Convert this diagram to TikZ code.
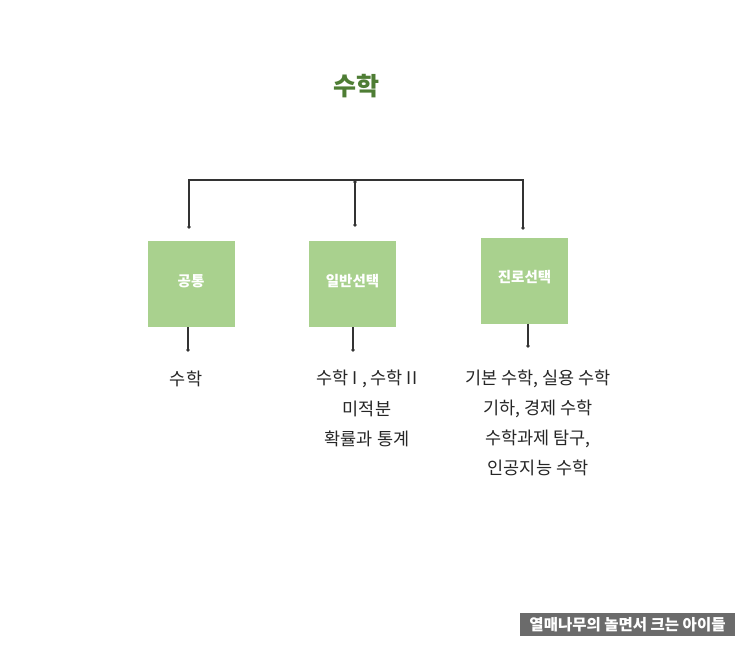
\documentclass[tikz,border=0pt]{standalone}
\usepackage{fontspec}
\setmainfont{Noto Sans CJK KR}
\newfontfamily\kr{Noto Sans CJK KR}
\definecolor{titlegreen}{HTML}{4E7D34}
\definecolor{boxgreen}{HTML}{A9D18E}
\definecolor{linegray}{HTML}{333333}
\definecolor{wmgray}{HTML}{6B6B6B}
\tikzset{
  x=1pt, y=-1pt,
  gbox/.style={fill=boxgreen, draw=none, minimum width=87pt, minimum height=86pt, inner sep=0pt},
  blabel/.style={text=white, font=\kr\bfseries\fontsize{14.5}{16}\selectfont, inner sep=0pt},
  conn/.style={draw=linegray, line width=1.3pt},
  dotc/.style={fill=linegray, draw=none},
  item/.style={font=\kr\fontsize{17.5}{20}\selectfont, inner sep=0pt, text=black!85},
}
\begin{document}
\begin{tikzpicture}
\useasboundingbox (0,0) rectangle (743,645);
\fill[white] (0,0) rectangle (743,645);
% title
\node[font=\kr\bfseries\fontsize{25}{28}\selectfont, text=titlegreen, inner sep=0pt] (title) at (356,86) {수학};
% bracket
\coordinate (tl) at (189,180);
\coordinate (tr) at (523,180);
\coordinate (tm) at (355,182);
\coordinate (e1) at (189,227);
\coordinate (e2) at (355,225);
\coordinate (e3) at (523,228);
\draw[conn] (e1) -- (tl) -- (tr) -- (e3);
\draw[conn] (tm) -- (e2);
\foreach \p in {e1,e2,e3,tm} \fill[dotc] (\p) circle (1.9);
% boxes
\node[gbox] (b1) at (191,284) {};
\node[gbox] (b2) at (352.5,284) {};
\node[gbox] (b3) at (524.5,280.5) {};
\node[blabel] (l1) at (191,281) {공통};
\node[blabel] (l2) at (352.5,281) {일반선택};
\node[blabel] (l3) at (524.5,277) {진로선택};
% stems below
\coordinate (s1) at (188,350);
\coordinate (s2) at (353,350);
\coordinate (s3) at (528,346);
\draw[conn] (b1.south -| s1) -- (s1);
\draw[conn] (b2.south -| s2) -- (s2);
\draw[conn] (b3.south -| s3) -- (s3);
\foreach \p in {s1,s2,s3} \fill[dotc] (\p) circle (1.9);
% items
\node[item] (i1) at (186,379) {수학};
\node[item] (i21) at (367,379) {수학 I , 수학 II};
\node[item] (i22) at (367,409) {미적분};
\node[item] (i23) at (367,439) {확률과 통계};
\node[item] (i31) at (538,379) {기본 수학, 실용 수학};
\node[item] (i32) at (538,409) {기하, 경제 수학};
\node[item] (i33) at (538,439) {수학과제 탐구,};
\node[item] (i34) at (538,468) {인공지능 수학};
% watermark
\fill[wmgray] (520,613) rectangle (735,636);
\node[text=white, font=\kr\bfseries\fontsize{15.5}{17}\selectfont, inner sep=0pt] (wm) at (627.5,624.5) {열매나무의 놀면서 크는 아이들};
\end{tikzpicture}
\end{document}
